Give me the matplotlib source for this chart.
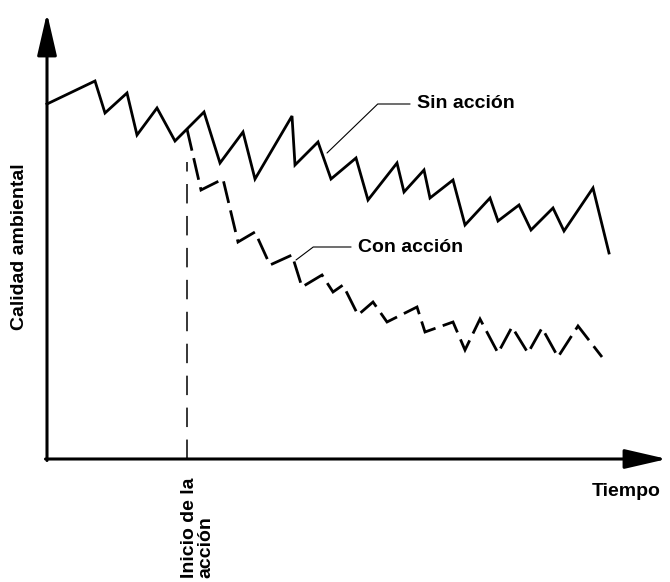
import numpy as np
import matplotlib
matplotlib.use("Agg")
import matplotlib.pyplot as plt

plt.rcParams['font.family'] = ['Liberation Sans', 'DejaVu Sans']
plt.rcParams['lines.scale_dashes'] = False

# curve without action (time, environmental quality), arbitrary units
sin_t = [0, 48, 58, 80, 90, 110, 128, 140, 157, 173, 196, 208, 245, 248, 271, 284,
         309, 321, 350, 357, 377, 383, 406, 418, 443, 451, 472, 484, 506, 517, 546, 562]
sin_q = [355, 378, 346, 366, 324, 351, 318, 330, 347, 296, 327, 280, 343, 294, 317, 280,
         301, 259, 296, 267, 289, 261, 279, 234, 261, 238, 254, 229, 251, 228, 271, 206]

# curve with action, starts where the action begins
con_t = [140, 154, 176, 191, 208, 223, 245, 255, 275, 286, 296, 311, 326, 340, 370, 378,
         406, 418, 433, 451, 465, 481, 495, 511, 531, 555]
con_q = [330, 269, 280, 217, 227, 194, 204, 172, 184, 167, 174, 144, 157, 137, 152, 127,
         137, 109, 140, 106, 132, 106, 131, 102, 133, 102]

t_action = 140
action_top = 297
t_max, q_max = 620, 446

fig = plt.figure(figsize=(6.7, 5.82), dpi=100)
ax = fig.add_axes([0, 0, 1, 1])
ax.set_xlim(-47, 623)
ax.set_ylim(-123, 459)
ax.axis('off')

# axes with arrow heads
arrow = dict(arrowstyle='-|>,head_length=1.3,head_width=0.3', lw=2.2, color='black',
             mutation_scale=20, shrinkA=0, shrinkB=0)
ax.annotate('', xy=(0, q_max), xytext=(0, -1.5), arrowprops=arrow)
ax.annotate('', xy=(t_max, 0), xytext=(-1.5, 0), arrowprops=arrow)

ax.plot(sin_t, sin_q, color='black', lw=2.0, solid_joinstyle='miter')
ax.plot(con_t, con_q, color='black', lw=2.0, linestyle=(0, (16, 5.5)),
        dash_joinstyle='miter', dash_capstyle='butt')
ax.plot([t_action, t_action], [0, action_top], color='black', lw=1.1,
        linestyle=(0, (14, 9)))

lead = dict(arrowstyle='-', lw=0.8, color='black', shrinkA=3, shrinkB=0, relpos=(0, 0.5))
ax.annotate('Sin acción', xy=(280, 306), xytext=(370, 355), fontsize=14,
            fontweight='bold', ha='left', va='center',
            arrowprops=dict(lead, connectionstyle='angle,angleA=0,angleB=44'))
ax.annotate('Con acción', xy=(249, 199), xytext=(311, 212), fontsize=14,
            fontweight='bold', ha='left', va='center',
            arrowprops=dict(lead, connectionstyle='angle,angleA=0,angleB=37'))

ax.text(-27, 212, 'Calidad ambiental', rotation=90, fontsize=14, fontweight='bold',
        ha='center', va='center')
ax.text(545, -33, 'Tiempo', fontsize=14, fontweight='bold', ha='left', va='center')
ax.text(151, -18, 'Inicio de la\nacción', rotation=90, fontsize=14, fontweight='bold',
        ha='center', va='top', multialignment='left', linespacing=0.95)

fig.savefig('out.png', dpi=100)
